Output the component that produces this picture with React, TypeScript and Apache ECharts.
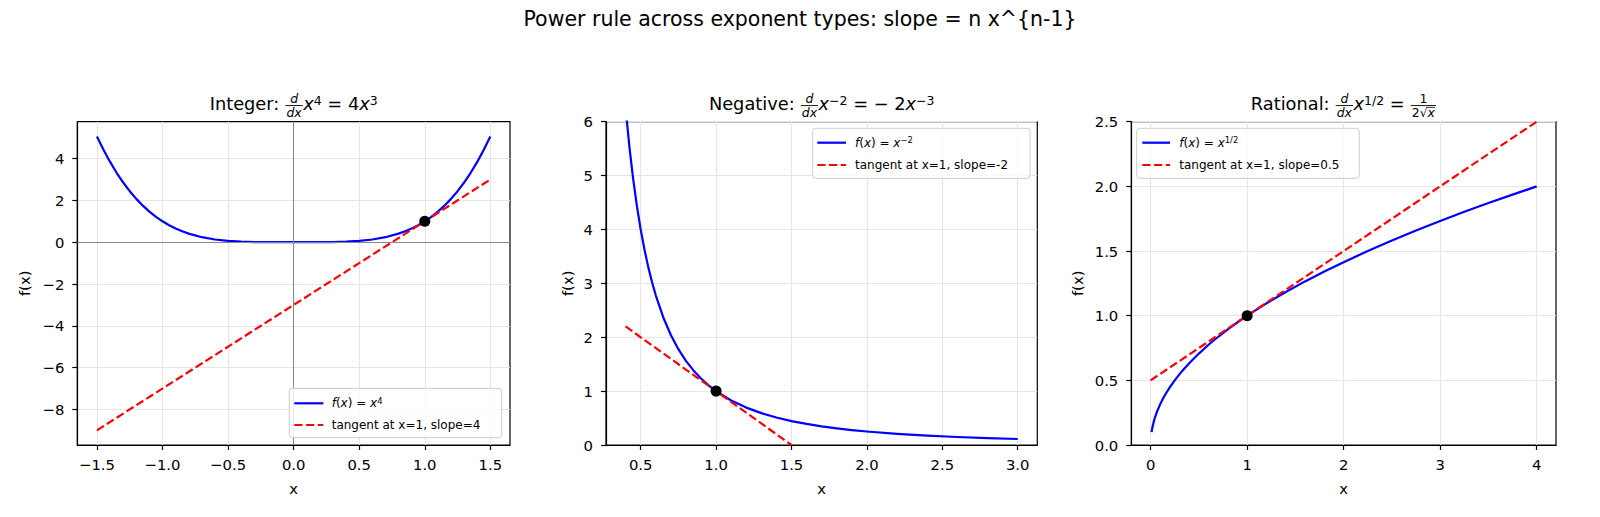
import React, { useEffect, useRef } from 'react';
import * as echarts from 'echarts';

const FONT = '"DejaVu Sans", sans-serif';

// ---------- data ----------
const quarticX = [-1.5, -1.45, -1.4, -1.35, -1.3, -1.25, -1.2, -1.15, -1.1, -1.05, -1.0, -0.95, -0.9, -0.85, -0.8, -0.7, -0.6, -0.5, -0.4, -0.3, -0.2, -0.1, 0, 0.1, 0.2, 0.3, 0.4, 0.5, 0.6, 0.7, 0.8, 0.85, 0.9, 0.95, 1.0, 1.05, 1.1, 1.15, 1.2, 1.25, 1.3, 1.35, 1.4, 1.45, 1.5];
const quarticY = [5.0625, 4.4205, 3.8416, 3.3215, 2.8561, 2.4414, 2.0736, 1.749, 1.4641, 1.2155, 1.0, 0.8145, 0.6561, 0.522, 0.4096, 0.2401, 0.1296, 0.0625, 0.0256, 0.0081, 0.0016, 0.0001, 0, 0.0001, 0.0016, 0.0081, 0.0256, 0.0625, 0.1296, 0.2401, 0.4096, 0.522, 0.6561, 0.8145, 1.0, 1.2155, 1.4641, 1.749, 2.0736, 2.4414, 2.8561, 3.3215, 3.8416, 4.4205, 5.0625];
const tangent1X = [-1.5, 1.5];
const tangent1Y = [-9, 3];

const inverseX = [0.4, 0.425, 0.45, 0.475, 0.5, 0.525, 0.55, 0.575, 0.6, 0.65, 0.7, 0.75, 0.8, 0.85, 0.9, 0.95, 1.0, 1.1, 1.2, 1.3, 1.4, 1.5, 1.6, 1.7, 1.8, 1.9, 2.0, 2.2, 2.4, 2.6, 2.8, 3.0];
const inverseY = [6.25, 5.536, 4.938, 4.432, 4.0, 3.628, 3.306, 3.025, 2.778, 2.367, 2.041, 1.778, 1.5625, 1.384, 1.235, 1.108, 1.0, 0.826, 0.694, 0.592, 0.51, 0.444, 0.391, 0.346, 0.309, 0.277, 0.25, 0.207, 0.174, 0.148, 0.128, 0.111];
const tangent2X = [0.4, 1.5];
const tangent2Y = [2.2, 0];

const rootX = [0.01, 0.015, 0.02, 0.03, 0.04, 0.05, 0.07, 0.1, 0.13, 0.16, 0.2, 0.25, 0.3, 0.35, 0.4, 0.5, 0.6, 0.7, 0.8, 0.9, 1.0, 1.2, 1.4, 1.6, 1.8, 2.0, 2.25, 2.5, 2.75, 3.0, 3.25, 3.5, 3.75, 4.0];
const rootY = [0.1, 0.122, 0.141, 0.173, 0.2, 0.224, 0.265, 0.316, 0.361, 0.4, 0.447, 0.5, 0.548, 0.592, 0.632, 0.707, 0.775, 0.837, 0.894, 0.949, 1.0, 1.095, 1.183, 1.265, 1.342, 1.414, 1.5, 1.581, 1.658, 1.732, 1.803, 1.871, 1.936, 2.0];
const tangent3X = [0, 4];
const tangent3Y = [0.5, 2.5];

const pointX = [1];
const pointY = [1];

const xTicks1 = [-1.5, -1.0, -0.5, 0.0, 0.5, 1.0, 1.5];
const yTicks1 = [-8, -6, -4, -2, 0, 2, 4];
const xTicks2 = [0.5, 1.0, 1.5, 2.0, 2.5, 3.0];
const yTicks2 = [0, 1, 2, 3, 4, 5, 6];
const xTicks3 = [0, 1, 2, 3, 4];
const yTicks3 = [0.0, 0.5, 1.0, 1.5, 2.0, 2.5];

const legendTangent = ['tangent at x=1, slope=4', 'tangent at x=1, slope=-2', 'tangent at x=1, slope=0.5'];
const suptitle = 'Power rule across exponent types: slope = n x^{n-1}';

// ---------- helpers ----------
const pairs = (xs: number[], ys: number[]) => xs.map((x, i) => [x, ys[i]]);
const fmt = (d: number) => (v: number) => {
  const s = Math.abs(v).toFixed(d);
  return v < -1e-9 ? '\u2212' + s : s;
};

let ctx: CanvasRenderingContext2D | null = null;
function measure(t: string, s: number, it?: boolean) {
  if (!ctx) ctx = document.createElement('canvas').getContext('2d');
  ctx!.font = `${it ? 'italic ' : ''}${s}px "DejaVu Sans"`;
  return ctx!.measureText(t).width;
}

type TP = { t: string; s: number; it?: boolean; dy?: number; bar?: boolean };
type FP = { num: P[]; den: P[]; s: number };
type P = TP | FP;

function pieceWidth(p: P): number {
  if ('num' in p) return Math.max(rowWidth(p.num), rowWidth(p.den)) + 3;
  return measure(p.t, p.s, p.it);
}
function rowWidth(ps: P[]): number {
  return ps.reduce((a, p) => a + pieceWidth(p), 0);
}
function layout(ps: P[], x0: number, base: number, out: any[]) {
  let x = x0;
  for (const p of ps) {
    const w = pieceWidth(p);
    if ('num' in p) {
      const barY = base - 0.25 * p.s;
      const nw = rowWidth(p.num);
      const dw = rowWidth(p.den);
      out.push({
        type: 'line', z: 100,
        shape: { x1: x + 0.5, y1: barY, x2: x + w - 0.5, y2: barY },
        style: { stroke: '#000', lineWidth: 0.9 },
      });
      layout(p.num, x + (w - nw) / 2, barY - 0.13 * p.s, out);
      layout(p.den, x + (w - dw) / 2, barY + 0.66 * p.s, out);
    } else {
      const b = base + (p.dy || 0);
      out.push({
        type: 'text', z: 100,
        x, y: b - 0.346 * p.s,
        style: {
          text: p.t,
          font: `${p.it ? 'italic ' : ''}${p.s}px ${FONT}`,
          fill: '#000',
          textAlign: 'left',
          textVerticalAlign: 'middle',
        },
      });
      if (p.bar) {
        out.push({
          type: 'line', z: 100,
          shape: { x1: x - 1, y1: b - 0.8 * p.s, x2: x + w, y2: b - 0.8 * p.s },
          style: { stroke: '#000', lineWidth: 0.8 },
        });
      }
    }
    x += w;
  }
}
function centered(ps: P[], cx: number, base: number, out: any[]) {
  layout(ps, cx - rowWidth(ps) / 2, base, out);
}

// ---------- layout constants ----------
const TOP = 121.7;
const HGT = 323.3;
const panels = [
  { left: 77.3, width: 432.7 },
  { left: 606, width: 431.3 },
  { left: 1131.3, width: 424.7 },
];

const TS = 17.8; // title size
const SS = TS * 0.7; // script size
const LS = 12; // legend size
const LSS = LS * 0.7;

function buildGraphics() {
  const out: any[] = [];
  out.push({
    type: 'text', z: 100, x: 800, y: 18.5,
    style: { text: suptitle, font: `20.5px ${FONT}`, fill: '#000', textAlign: 'center', textVerticalAlign: 'middle' },
  });
  const dfrac: FP = { num: [{ t: 'd', s: SS, it: true }], den: [{ t: 'dx', s: SS, it: true }], s: TS };
  const titleBase = 110;
  const up = -5.5;
  centered([
    { t: 'Integer: ', s: TS },
    dfrac,
    { t: 'x', s: TS, it: true },
    { t: '4', s: SS, dy: up },
    { t: ' = 4', s: TS },
    { t: 'x', s: TS, it: true },
    { t: '3', s: SS, dy: up },
  ], panels[0].left + panels[0].width / 2, titleBase, out);
  centered([
    { t: 'Negative: ', s: TS },
    dfrac,
    { t: 'x', s: TS, it: true },
    { t: '\u22122', s: SS, dy: up },
    { t: ' = \u2212 2', s: TS },
    { t: 'x', s: TS, it: true },
    { t: '\u22123', s: SS, dy: up },
  ], panels[1].left + panels[1].width / 2, titleBase, out);
  centered([
    { t: 'Rational: ', s: TS },
    dfrac,
    { t: 'x', s: TS, it: true },
    { t: '1/2', s: SS, dy: up },
    { t: ' = ', s: TS },
    {
      num: [{ t: '1', s: SS }],
      den: [{ t: '2\u221A', s: SS }, { t: 'x', s: SS, it: true, bar: true }],
      s: TS,
    },
  ], panels[2].left + panels[2].width / 2, titleBase, out);

  panels.forEach((p, i) => {
    out.push({
      type: 'text', z: 100, x: p.left + p.width / 2, y: 488.5,
      style: { text: 'x', font: `14.8px ${FONT}`, fill: '#000', textAlign: 'center', textVerticalAlign: 'middle' },
    });
    const fx = [24, 567.5, 1077.5][i];
    out.push({
      type: 'text', z: 100, x: fx, y: TOP + HGT / 2, rotation: Math.PI / 2,
      style: { text: 'f(x)', font: `14.8px ${FONT}`, fill: '#000', textAlign: 'center', textVerticalAlign: 'middle' },
    });
  });

  const legends = [
    { box: [289.3, 388.3, 501.7, 437.7], rows: [403.3, 425], h: [294.3, 323.3], tx: 331.7, sup: '4' },
    { box: [812.7, 128.3, 1030, 178.3], rows: [142.7, 165], h: [817.3, 846], tx: 855, sup: '\u22122' },
    { box: [1136.7, 128.3, 1359.3, 178.3], rows: [142.7, 165], h: [1142.3, 1170], tx: 1179.3, sup: '1/2' },
  ];
  legends.forEach((L, i) => {
    out.push({
      type: 'rect', z: 90,
      shape: { x: L.box[0], y: L.box[1], width: L.box[2] - L.box[0], height: L.box[3] - L.box[1], r: 3 },
      style: { fill: 'rgba(255,255,255,0.8)', stroke: '#cccccc', lineWidth: 1 },
    });
    out.push({
      type: 'line', z: 100,
      shape: { x1: L.h[0], y1: L.rows[0], x2: L.h[1], y2: L.rows[0] },
      style: { stroke: '#0000ff', lineWidth: 2.2 },
    });
    out.push({
      type: 'line', z: 100,
      shape: { x1: L.h[0], y1: L.rows[1], x2: L.h[1], y2: L.rows[1] },
      style: { stroke: '#ff0000', lineWidth: 2.2, lineDash: [8.2, 3.5] },
    });
    const b1 = L.rows[0] + 0.346 * LS;
    layout([
      { t: 'f', s: LS, it: true },
      { t: '(', s: LS },
      { t: 'x', s: LS, it: true },
      { t: ') = ', s: LS },
      { t: 'x', s: LS, it: true },
      { t: L.sup, s: LSS, dy: -3.6 },
    ], L.tx, b1, out);
    out.push({
      type: 'text', z: 100, x: L.tx, y: L.rows[1],
      style: { text: legendTangent[i], font: `${LS}px ${FONT}`, fill: '#000', textAlign: 'left', textVerticalAlign: 'middle' },
    });
  });
  return out;
}

function makeXAxis(i: number, min: number, max: number, ticks: number[], d: number) {
  return {
    gridIndex: i, type: 'value', min, max,
    axisLine: { show: true, onZero: false, lineStyle: { color: '#000', width: 1.2 } },
    axisTick: { show: true, inside: false, length: 5, customValues: ticks, lineStyle: { color: '#000', width: 1.2 } },
    axisLabel: { customValues: ticks, formatter: fmt(d), color: '#000', fontSize: 14.8, fontFamily: FONT, margin: 12 },
    splitLine: { show: true, lineStyle: { color: '#e6e6e6', width: 1.2 } },
  };
}
function makeYAxis(i: number, min: number, max: number, ticks: number[], d: number) {
  return {
    gridIndex: i, type: 'value', min, max,
    axisLine: { show: true, onZero: false, lineStyle: { color: '#000', width: 1.2 } },
    axisTick: { show: true, inside: false, length: 5, customValues: ticks, lineStyle: { color: '#000', width: 1.2 } },
    axisLabel: { customValues: ticks, formatter: fmt(d), color: '#000', fontSize: 14.8, fontFamily: FONT, margin: 13 },
    splitLine: { show: true, lineStyle: { color: '#e6e6e6', width: 1.2 } },
  };
}

function curve(i: number, xs: number[], ys: number[]) {
  return {
    type: 'line', xAxisIndex: i, yAxisIndex: i, data: pairs(xs, ys),
    symbol: 'none', showSymbol: false, smooth: false, z: 3,
    lineStyle: { color: '#0000ff', width: 2.2, join: 'round' }, silent: true,
  };
}
function tangent(i: number, xs: number[], ys: number[]) {
  return {
    type: 'line', xAxisIndex: i, yAxisIndex: i, data: pairs(xs, ys),
    symbol: 'none', showSymbol: false, z: 4,
    lineStyle: { color: '#ff0000', width: 2.2, type: [8.2, 3.5], cap: 'butt' }, silent: true,
  };
}
function point(i: number) {
  return {
    type: 'scatter', xAxisIndex: i, yAxisIndex: i, data: pairs(pointX, pointY),
    symbol: 'circle', symbolSize: 11, z: 5, itemStyle: { color: '#000', opacity: 1 }, silent: true,
  };
}

export default function App() {
  const ref = useRef<HTMLDivElement>(null);
  useEffect(() => {
    document.body.style.margin = '0';
    if (!ref.current) return;
    const chart = echarts.init(ref.current, undefined, { renderer: 'svg' });
    const option: any = {
      animation: false,
      backgroundColor: '#fff',
      grid: panels.map((p) => ({
        left: p.left, top: TOP, width: p.width, height: HGT,
        show: true, borderColor: '#000', borderWidth: 1.2, backgroundColor: 'transparent',
      })),
      xAxis: [
        makeXAxis(0, -1.65, 1.65, xTicks1, 1),
        makeXAxis(1, 0.27, 3.13, xTicks2, 1),
        makeXAxis(2, -0.2, 4.2, xTicks3, 0),
      ],
      yAxis: [
        makeYAxis(0, -9.703, 5.766, yTicks1, 0),
        makeYAxis(1, 0, 6, yTicks2, 0),
        makeYAxis(2, 0, 2.5, yTicks3, 1),
      ],
      series: [
        {
          type: 'line', xAxisIndex: 0, yAxisIndex: 0, data: [], z: 2, silent: true,
          markLine: {
            silent: true, symbol: ['none', 'none'], label: { show: false },
            lineStyle: { color: '#888888', width: 1, type: 'solid' },
            data: [{ yAxis: 0 }, { xAxis: 0 }],
          },
        },
        curve(0, quarticX, quarticY),
        tangent(0, tangent1X, tangent1Y),
        point(0),
        curve(1, inverseX, inverseY),
        tangent(1, tangent2X, tangent2Y),
        point(1),
        curve(2, rootX, rootY),
        tangent(2, tangent3X, tangent3Y),
        point(2),
      ],
      graphic: buildGraphics(),
    };
    chart.setOption(option);
    return () => chart.dispose();
  }, []);
  return <div ref={ref} style={{ width: 1600, height: 517, background: '#fff' }} />;
}
